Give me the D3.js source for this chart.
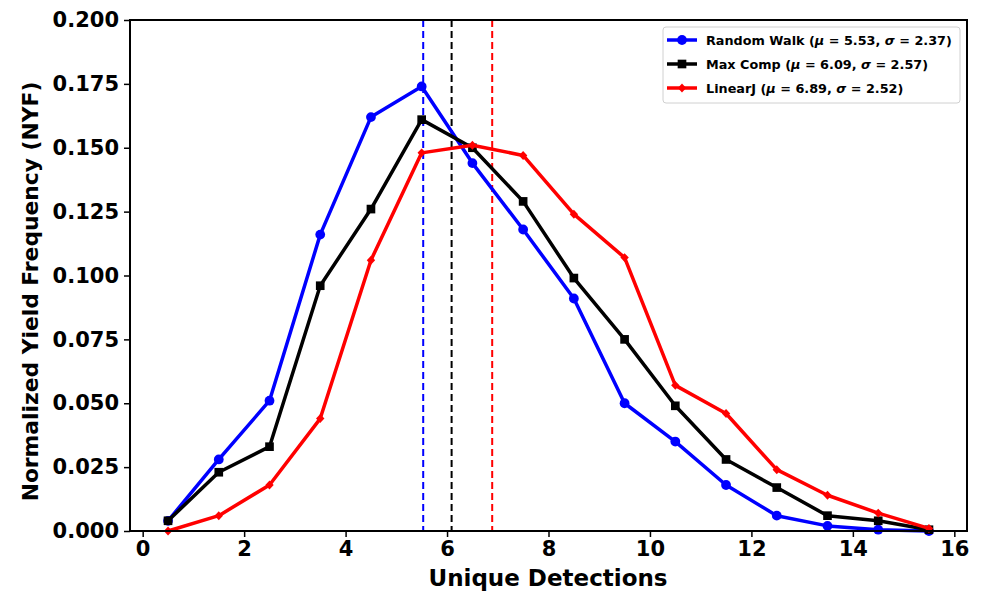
<!DOCTYPE html>
<html><head><meta charset="utf-8">
<script src="https://cdn.jsdelivr.net/npm/d3@7"></script>
<style>body{margin:0;background:#fff}svg{font-family:"DejaVu Sans",sans-serif;font-weight:bold}</style>
</head><body><svg id="c" width="985" height="592"></svg>
<script>
const xs = [0.5,1.5,2.5,3.5,4.5,5.5,6.5,7.5,8.5,9.5,10.5,11.5,12.5,13.5,14.5,15.5];
const randomWalk = [0.004,0.028,0.051,0.116,0.162,0.174,0.144,0.118,0.091,0.050,0.035,0.018,0.006,0.002,0.0005,0.0];
const maxComp = [0.004,0.023,0.033,0.096,0.126,0.161,0.150,0.129,0.099,0.075,0.049,0.028,0.017,0.006,0.004,0.0005];
const linearJ = [0.0,0.006,0.018,0.044,0.106,0.148,0.151,0.147,0.124,0.107,0.057,0.046,0.024,0.014,0.007,0.001];
const seriesNames = ["Random Walk","Max Comp","LinearJ"];
const means = [5.53,6.09,6.89];
const sigmas = [2.37,2.57,2.52];
const colors = ["#0000ff","#000000","#ff0000"];
const markers = ["circle","square","diamond"];
const xTicks = [0,2,4,6,8,10,12,14,16];
const yTicks = [0,0.025,0.05,0.075,0.1,0.125,0.15,0.175,0.2];

const svg = d3.select("#c");
const L=130, R=967, T=20, B=531;
const x = d3.scaleLinear().domain([-0.25,16.25]).range([L,R]);
const y = d3.scaleLinear().domain([0,0.2]).range([B,T]);

const xa = svg.append("g").attr("transform",`translate(0,${B})`)
  .call(d3.axisBottom(x).tickValues(xTicks).tickFormat(d3.format("d")).tickSize(6).tickPadding(4));
const ya = svg.append("g").attr("transform",`translate(${L},0)`)
  .call(d3.axisLeft(y).tickValues(yTicks).tickFormat(d3.format(".3f")).tickSize(6).tickPadding(5));
[xa,ya].forEach(a=>{a.select(".domain").remove();a.selectAll("line").attr("stroke","#000").attr("stroke-width",1.5);
  a.selectAll("text").attr("font-size",21).attr("font-weight","bold").attr("font-family","DejaVu Sans").attr("fill","#000");});

means.forEach((m,i)=>{
  svg.append("line").attr("x1",x(m)).attr("x2",x(m)).attr("y1",T).attr("y2",B)
    .attr("stroke",colors[i]).attr("stroke-width",2).attr("stroke-dasharray","7,4");
});

const data=[randomWalk,maxComp,linearJ];
const line = d3.line().x((d,i)=>x(xs[i])).y(d=>y(d));
const symType={circle:d3.symbolCircle,square:d3.symbolSquare,diamond:d3.symbolDiamond};
const symSize={circle:75,square:75,diamond:36};
data.forEach((ser,si)=>{
  svg.append("path").attr("d",line(ser)).attr("fill","none").attr("stroke",colors[si]).attr("stroke-width",3.5).attr("stroke-linejoin","round");
  svg.selectAll(null).data(ser).enter().append("path")
    .attr("transform",(d,i)=>`translate(${x(xs[i])},${y(d)})`+(markers[si]==="diamond"?" scale(1.3,0.8)":""))
    .attr("d",d3.symbol().type(symType[markers[si]]).size(symSize[markers[si]]))
    .attr("fill",colors[si]);
});

svg.append("rect").attr("x",L).attr("y",T).attr("width",R-L).attr("height",B-T).attr("fill","none").attr("stroke","#000").attr("stroke-width",2);

svg.append("text").attr("x",548).attr("y",586).attr("text-anchor","middle").attr("font-size",23).text("Unique Detections");
svg.append("text").attr("transform",`translate(38,${(T+B)/2+16}) rotate(-90)`).attr("text-anchor","middle").attr("font-size",21.8).text("Normalized Yield Frequency (NYF)");

const lg = svg.append("g");
lg.append("rect").attr("x",663).attr("y",27).attr("width",297).attr("height",76).attr("rx",3)
  .attr("fill","#fff").attr("stroke","#d0d0d0").attr("stroke-width",1);
seriesNames.forEach((n,i)=>{
  const yy=40+i*24;
  lg.append("line").attr("x1",667).attr("x2",697).attr("y1",yy).attr("y2",yy).attr("stroke",colors[i]).attr("stroke-width",3.5);
  lg.append("path").attr("transform",`translate(682,${yy})`+(markers[i]==="diamond"?" scale(1.3,0.8)":""))
    .attr("d",d3.symbol().type(symType[markers[i]]).size(symSize[markers[i]])).attr("fill",colors[i]);
  const t=lg.append("text").attr("x",706).attr("y",yy+5).attr("font-size",12.8);
  t.append("tspan").text(n+" (");
  t.append("tspan").attr("font-style","italic").text("μ");
  t.append("tspan").text(" = "+means[i].toFixed(2)+", ");
  t.append("tspan").attr("font-style","italic").text("σ");
  t.append("tspan").text(" = "+sigmas[i].toFixed(2)+")");
});
</script></body></html>
